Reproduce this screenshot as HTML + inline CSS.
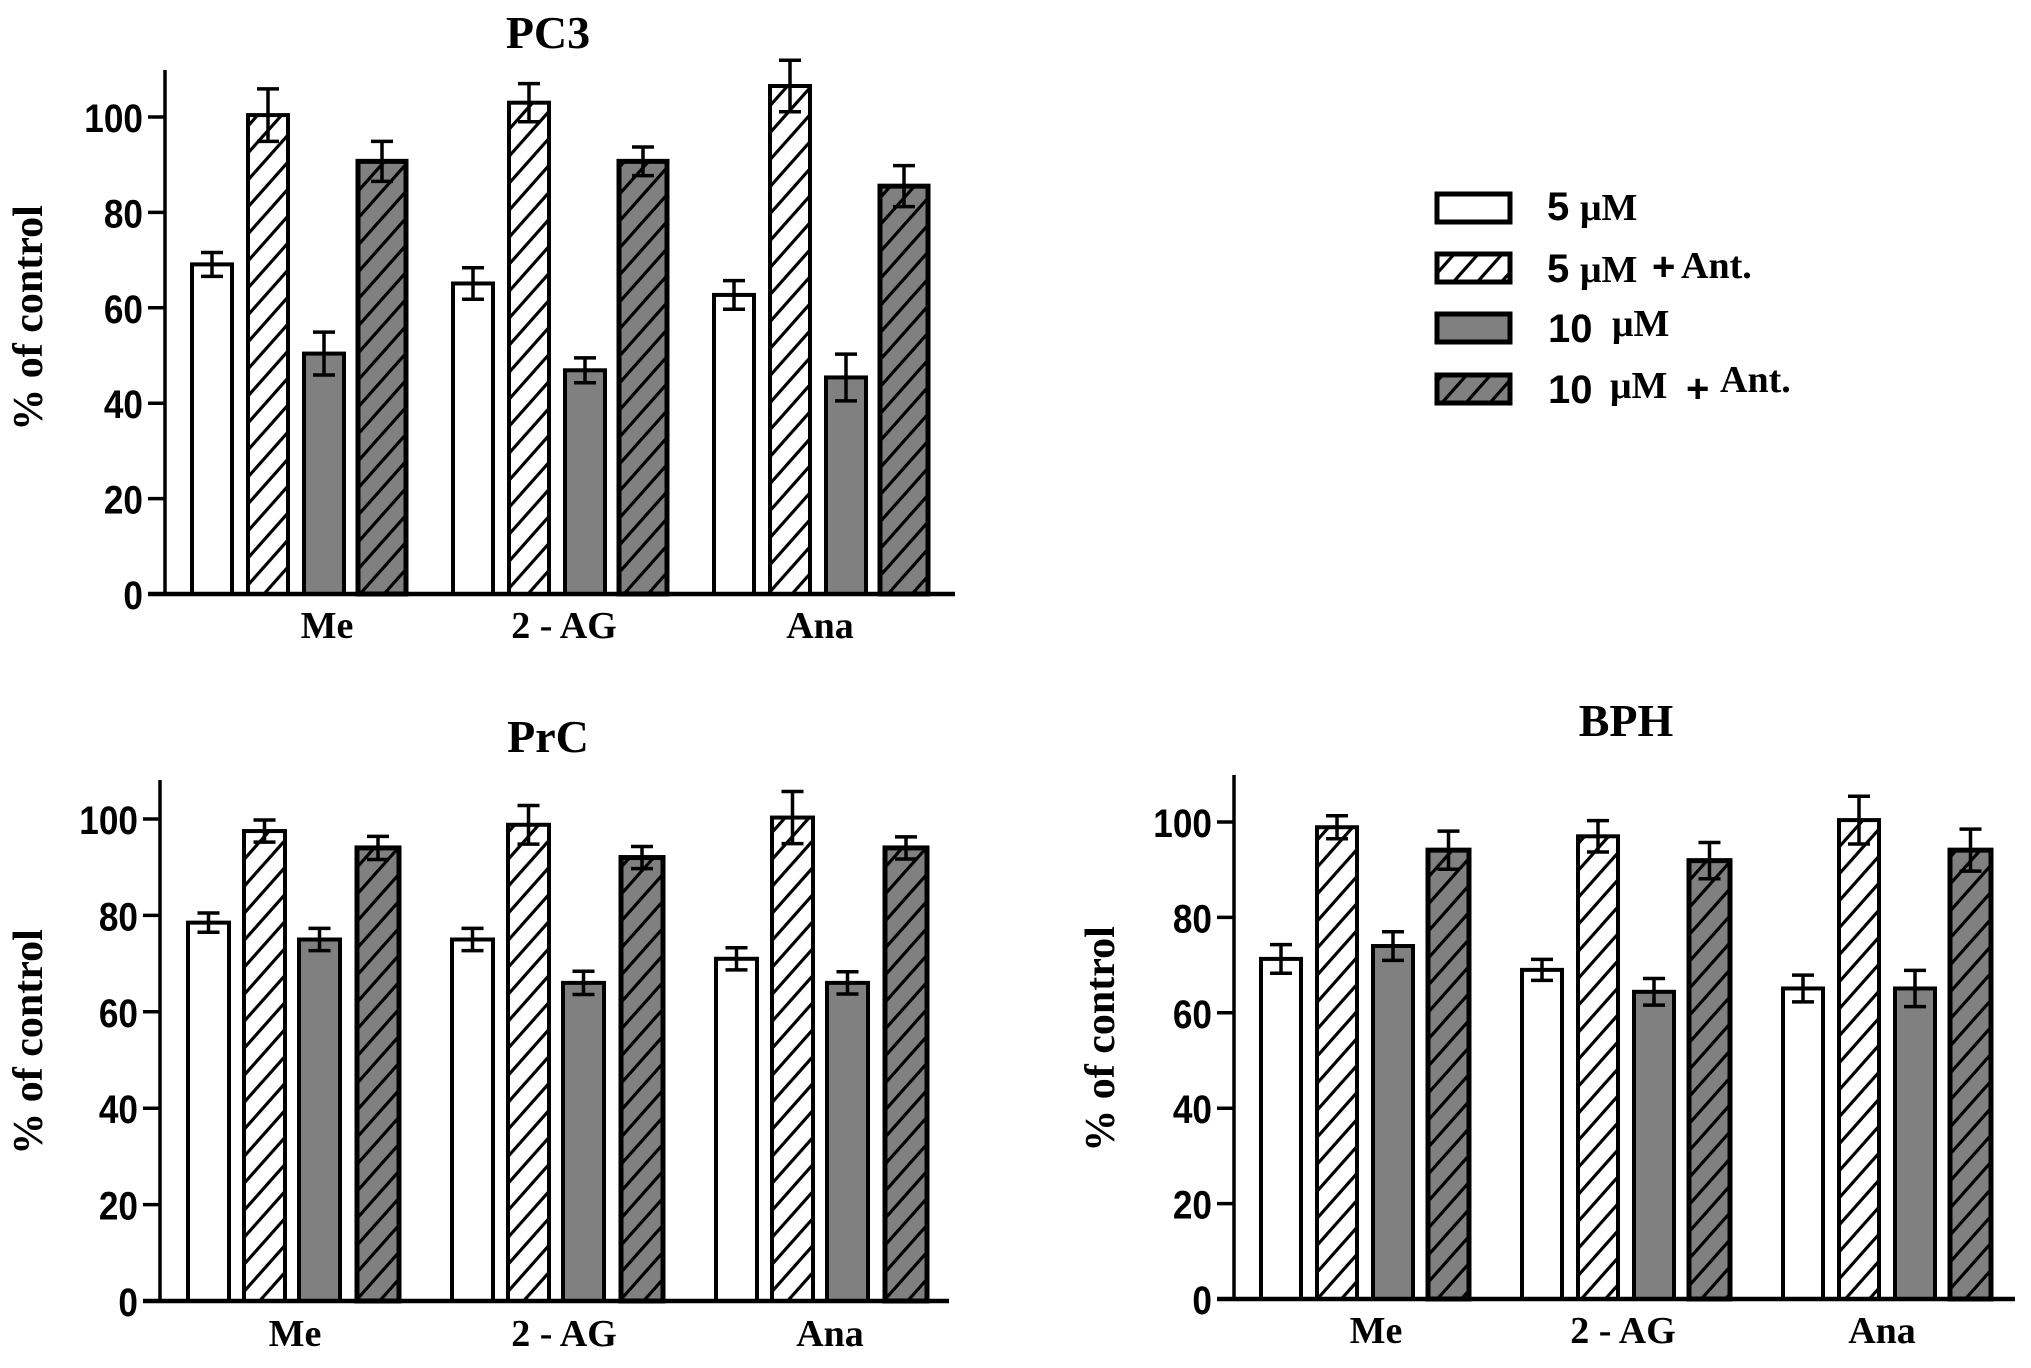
<!DOCTYPE html>
<html><head><meta charset="utf-8"><title>Cannabinoid bar charts</title>
<style>
html,body{margin:0;padding:0;background:#fff;}
svg{display:block;}
.tick{font-family:"Liberation Sans",Arial,sans-serif;font-weight:bold;font-size:40px;}
.ser{font-family:"Liberation Serif","Times New Roman",serif;font-weight:bold;}
</style></head>
<body>
<svg id="fig" width="2031" height="1368" viewBox="0 0 2031 1368" xmlns="http://www.w3.org/2000/svg">
<defs>
<pattern id="hatchW" patternUnits="userSpaceOnUse" width="24" height="27">
<rect width="24" height="27" fill="#fff"/>
<line x1="-6" y1="33.75" x2="30" y2="-6.75" stroke="#000" stroke-width="3.2"/>
<line x1="-30" y1="33.75" x2="6" y2="-6.75" stroke="#000" stroke-width="3.2"/>
<line x1="18" y1="33.75" x2="54" y2="-6.75" stroke="#000" stroke-width="3.2"/>
</pattern>
<pattern id="hatchG" patternUnits="userSpaceOnUse" width="24" height="27">
<rect width="24" height="27" fill="#808080"/>
<line x1="-6" y1="33.75" x2="30" y2="-6.75" stroke="#000" stroke-width="3.2"/>
<line x1="-30" y1="33.75" x2="6" y2="-6.75" stroke="#000" stroke-width="3.2"/>
<line x1="18" y1="33.75" x2="54" y2="-6.75" stroke="#000" stroke-width="3.2"/>
</pattern>
</defs>
<g id="legend">
<g>
<rect x="1437" y="194" width="73" height="28" fill="#fff" stroke="#000" stroke-width="5"/>
<text x="1547" y="220" class="tick" font-size="38">5</text><text x="1580" y="220" class="ser" font-size="38">μM</text>
</g>
<g>
<rect x="1437" y="254" width="73" height="28" fill="url(#hatchW)" stroke="#000" stroke-width="5"/>
<text x="1547" y="282" class="tick" font-size="38">5</text><text x="1580" y="282" class="ser" font-size="38">μM</text>
<text x="1652" y="280" class="tick" font-size="38">+</text><text x="1681" y="278" class="ser" font-size="38">Ant.</text>
</g>
<g>
<rect x="1437" y="314" width="73" height="28" fill="#808080" stroke="#000" stroke-width="5"/>
<text x="1548" y="342" class="tick" font-size="38">10</text><text x="1612" y="336" class="ser" font-size="38">μM</text>
</g>
<g>
<rect x="1437" y="375" width="73" height="28" fill="url(#hatchG)" stroke="#000" stroke-width="5"/>
<text x="1548" y="403" class="tick" font-size="38">10</text><text x="1610" y="398" class="ser" font-size="38">μM</text>
<text x="1686" y="402" class="tick" font-size="38">+</text><text x="1720" y="392" class="ser" font-size="38">Ant.</text>
</g>
</g>
</svg>
<script>
// shared categories and ticks
const categories = ["Me", "2-AG", "Ana"];
const seriesNames = ["5 μM", "5 μM + Ant.", "10 μM", "10 μM + Ant."];
const yTicks = [0, 20, 40, 60, 80, 100];
const yTickLabels = ["0", "20", "40", "60", "80", "100"];
// PC3 values [series][category]
const pc3_5 = [69.1, 65.1, 62.7];
const pc3_5ant = [100.4, 103.0, 106.5];
const pc3_10 = [50.4, 46.9, 45.4];
const pc3_10ant = [90.7, 90.7, 85.5];
const pc3_err5 = [2.5, 3.3, 3.0];
const pc3_err5ant = [5.5, 4.0, 5.4];
const pc3_err10 = [4.5, 2.6, 4.9];
const pc3_err10ant = [4.2, 3.0, 4.3];
// PrC values
const prc_5 = [78.5, 75.0, 71.0];
const prc_5ant = [97.5, 98.8, 100.3];
const prc_10 = [75.0, 66.0, 66.0];
const prc_10ant = [94.0, 92.0, 94.0];
const prc_err5 = [2.0, 2.3, 2.3];
const prc_err5ant = [2.3, 4.0, 5.4];
const prc_err10 = [2.3, 2.4, 2.3];
const prc_err10ant = [2.4, 2.3, 2.3];
// BPH values
const bph_5 = [71.3, 69.0, 65.1];
const bph_5ant = [98.9, 97.0, 100.4];
const bph_10 = [74.0, 64.4, 65.1];
const bph_10ant = [94.1, 91.9, 94.1];
const bph_err5 = [3.0, 2.2, 2.8];
const bph_err5ant = [2.4, 3.3, 5.0];
const bph_err10 = [3.0, 2.8, 3.8];
const bph_err10ant = [4.0, 3.8, 4.4];

const NS = "http://www.w3.org/2000/svg";
const svg = document.getElementById("fig");
function mk(tag, attrs, parent){
  const e = document.createElementNS(NS, tag);
  for (const k in attrs) e.setAttribute(k, attrs[k]);
  parent.appendChild(e);
  return e;
}
const fills = ["#fff", "url(#hatchW)", "#808080", "url(#hatchG)"];
const keys = ["5um", "5um-ant", "10um", "10um-ant"];

function drawChart(cfg){
  const g = mk("g", {}, svg);
  
  
  const y = v => cfg.y0 - (v / 100) * (cfg.y0 - cfg.y100);
  const x = (ci, si) => cfg.x0 + ci * cfg.pitch + cfg.offs[si];
  const t = mk("text", {x: cfg.titleX, y: cfg.titleY, "text-anchor": "middle", "class": "ser", "font-size": "46"}, g);
  t.textContent = cfg.title;
  
  
  const yt = mk("text", {x: 0, y: 0, "text-anchor": "middle", "class": "ser", "font-size": "42",
    transform: "translate(" + cfg.ytX + "," + cfg.ytY + ") rotate(-90)"}, g);
  yt.textContent = "% of control";
  
  
  cfg.vals.forEach((arr, si) => {
    arr.forEach((v, ci) => {
      const w = cfg.widths[si];
      const bx = x(ci, si);
      const r = mk("rect", {x: bx, y: y(v), width: w, height: y(0) - y(v), fill: fills[si], stroke: "#000",
        "stroke-width": si === 3 ? 5 : 4}, g);
      
      
      const e = cfg.errs[si][ci];
      const cx = bx + w / 2;
      const eg = mk("g", {stroke: "#000", "stroke-width": 3.5}, g);
      
      
      mk("line", {x1: cx, x2: cx, y1: y(v + e), y2: y(v - e)}, eg);
      mk("line", {x1: cx - 11, x2: cx + 11, y1: y(v + e), y2: y(v + e)}, eg);
      mk("line", {x1: cx - 11, x2: cx + 11, y1: y(v - e), y2: y(v - e)}, eg);
    });
  });
  const ax = mk("g", {stroke: "#000", "stroke-width": 3.5}, g);
  
  
  mk("line", {x1: cfg.axX, x2: cfg.axX, y1: cfg.axTop, y2: y(0)}, ax);
  mk("line", {x1: cfg.axX - 17, x2: cfg.xEnd, y1: y(0), y2: y(0), "stroke-width": 4.5}, ax);
  yTicks.forEach((tv, i) => {
    mk("line", {x1: cfg.axX - 17, x2: cfg.axX, y1: y(tv), y2: y(tv)}, ax);
    const tl = mk("text", {x: cfg.axX - 22, y: y(tv) + 15, "text-anchor": "end", "class": "tick",
      transform: "translate(" + (cfg.axX - 22) + ",0) scale(0.88,1) translate(" + (-(cfg.axX - 22)) + ",0)"}, g);
    tl.textContent = yTickLabels[i];
    
    
  });
  categories.forEach((c, ci) => {
    const cl = mk("text", {x: cfg.labX[ci], y: cfg.labY, "text-anchor": "middle", "class": "ser", "font-size": "38"}, g);
    cl.textContent = c === "2-AG" ? "2 - AG" : c;
    
    
  });
}

drawChart({id: "pc3", title: "PC3", titleX: 548, titleY: 48, ytX: 42, ytY: 318,
  vals: [pc3_5, pc3_5ant, pc3_10, pc3_10ant], errs: [pc3_err5, pc3_err5ant, pc3_err10, pc3_err10ant],
  x0: 192, pitch: 261, offs: [0, 56, 112, 166], widths: [40, 40, 40, 48],
  y0: 594, y100: 117, axX: 165, axTop: 70, xEnd: 955, labX: [327, 564, 820], labY: 638});
drawChart({id: "prc", title: "PrC", titleX: 548, titleY: 752, ytX: 42, ytY: 1042,
  vals: [prc_5, prc_5ant, prc_10, prc_10ant], errs: [prc_err5, prc_err5ant, prc_err10, prc_err10ant],
  x0: 188, pitch: 264, offs: [0, 56, 111, 169], widths: [41, 41, 41, 42],
  y0: 1301, y100: 819, axX: 160, axTop: 780, xEnd: 949, labX: [295, 564, 830], labY: 1346});
drawChart({id: "bph", title: "BPH", titleX: 1626, titleY: 736, ytX: 1114, ytY: 1039,
  vals: [bph_5, bph_5ant, bph_10, bph_10ant], errs: [bph_err5, bph_err5ant, bph_err10, bph_err10ant],
  x0: 1261, pitch: 261, offs: [0, 56, 112, 167], widths: [40, 40, 40, 41],
  y0: 1299, y100: 822, axX: 1234, axTop: 775, xEnd: 2015, labX: [1376, 1623, 1882], labY: 1343});
</script>
</body></html>
